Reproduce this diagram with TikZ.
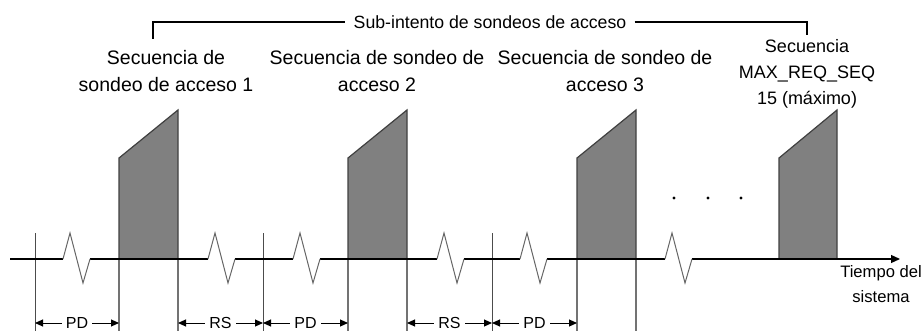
\documentclass[tikz,border=0pt]{standalone}
\usepackage{fontspec}
\setmainfont{Liberation Sans}
\usetikzlibrary{arrows.meta}

\tikzset{
  seqbox/.style={draw=black!75, fill=black!50, line width=0.6pt},
  edge/.style={draw=black!55, line width=0.6pt},
  tick/.style={draw=black!70, line width=0.5pt},
  wave/.style={draw=black!60, line width=0.5pt},
  timeaxis/.style={draw=black, line width=0.6pt, -{Triangle[length=4.5pt,width=4pt]}},
  dim/.style={draw=black, line width=0.5pt, {Triangle[length=4pt,width=3.5pt]}-{Triangle[length=4pt,width=3.5pt]}},
  dimlabel/.style={fill=white, inner sep=2pt, font=\fontsize{8}{9}\selectfont},
  seqlabel/.style={align=center, font=\fontsize{9.75}{13.5}\selectfont},
  bracket/.style={draw=black, line width=1pt}
}

\begin{document}
\begin{tikzpicture}[x=0.5pt, y=-0.5pt]
    \useasboundingbox (0,0) rectangle (924,331);

    % ticks on the time line
    \foreach \t/\x in {t1/35, t2/263, t3/492}
        \coordinate (\t) at (\x,259);
    \foreach \t in {t1, t2, t3}
        \draw[tick] (\t) ++(0,-26) -- ++(0,98);

    % access probe sequences
    \filldraw[seqbox] (119,259) -- (119,158) -- (178,110) -- (178,259) -- cycle;
    \filldraw[seqbox] (348,259) -- (348,158) -- (407,110) -- (407,259) -- cycle;
    \filldraw[seqbox] (577,259) -- (577,158) -- (636,110) -- (636,259) -- cycle;
    \filldraw[seqbox] (779,259) -- (779,158) -- (837,110) -- (837,259) -- cycle;
    \foreach \x/\n in {119/b1l, 178/b1r, 348/b2l, 407/b2r, 577/b3l, 636/b3r}
        \coordinate (\n) at (\x,259);
    \foreach \n in {b1l, b1r, b2l, b2r, b3l, b3r}
        \draw[edge] (\n) -- ++(0,72);

    % time axis
    \draw[timeaxis] (10,259) -- (63,259) (90,259) -- (208,259) (235,259) -- (293,259)
        (320,259) -- (437,259) (464,259) -- (520,259) (547,259) -- (665,259)
        (692,259) -- (900,259);
    \foreach \z in {63,208,293,437,520,665}
        \draw[wave] (\z,259) -- ++(7,-26) -- ++(13,50) -- ++(7,-24);
    \node[align=center, font=\fontsize{8.3}{12.5}\selectfont] (tiempo) at (881,284) {Tiempo del\\sistema};

    % dots
    \foreach \x in {674,708,741}
        \fill (\x,198) circle (1.6);

    % PD / RS
    \draw[dim] (t1 |- 0,323) -- node[dimlabel] {PD} (b1l |- 0,323);
    \draw[dim] (b1r |- 0,323) -- node[dimlabel] {RS} (t2 |- 0,323);
    \draw[dim] (t2 |- 0,323) -- node[dimlabel] {PD} (b2l |- 0,323);
    \draw[dim] (b2r |- 0,323) -- node[dimlabel] {RS} (t3 |- 0,323);
    \draw[dim] (t3 |- 0,323) -- node[dimlabel] {PD} (b3l |- 0,323);

    % labels
    \node[seqlabel] (lab1) at (166,71) {Secuencia de\\sondeo de acceso 1};
    \node[seqlabel] (lab2) at (377,71) {Secuencia de sondeo de\\acceso 2};
    \node[seqlabel] (lab3) at (605,71) {Secuencia de sondeo de\\acceso 3};
    \node[seqlabel, font=\fontsize{9}{13}\selectfont] (lab4) at (807,74) {Secuencia\\MAX\_REQ\_SEQ\\15 (máximo)};

    % sub-attempt bracket
    \node[inner sep=4pt, font=\fontsize{8.85}{11}\selectfont] (sub) at (490,22) {Sub-intento de sondeos de acceso};
    \draw[bracket] (153,39) -- (153,22) -- (sub.west);
    \draw[bracket] (sub.east) -- (807,22) -- (807,35);
\end{tikzpicture}
\end{document}
